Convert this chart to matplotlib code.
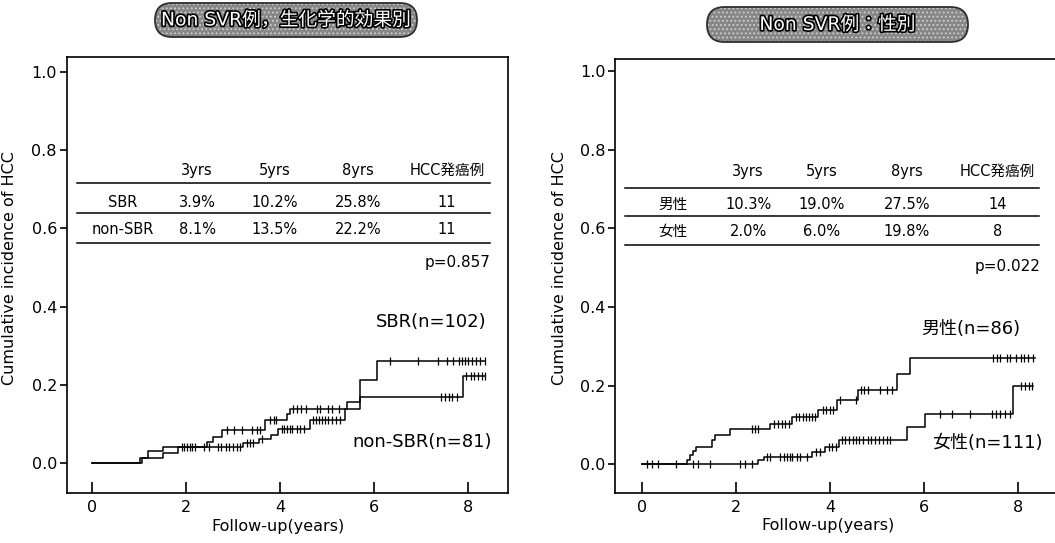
import numpy as np
import matplotlib
matplotlib.use('Agg')
import matplotlib.pyplot as plt
from matplotlib.patches import FancyBboxPatch
from matplotlib.transforms import IdentityTransform
import matplotlib.patheffects as pe

plt.rcParams['font.family'] = ['DejaVu Sans', 'Noto Sans CJK JP']
plt.rcParams['hatch.linewidth'] = 0.8

# ---------------- data ----------------
titles = ["Non SVR例，生化学的効果別", "Non SVR例：性別"]
table_cols = ["3yrs", "5yrs", "8yrs", "HCC発癌例"]

# Left panel: SBR vs non-SBR
left_groups = ["SBR", "non-SBR"]
left_rates = [["3.9%", "10.2%", "25.8%", "11"],
              ["8.1%", "13.5%", "22.2%", "11"]]
left_p = "p=0.857"
left_labels = ["SBR(n=102)", "non-SBR(n=81)"]

sbr_t = [1.06, 1.52, 1.84, 3.22, 3.55, 3.80, 3.95, 4.64, 5.38, 5.70, 6.05]
sbr_y = [0.013, 0.026, 0.042, 0.051, 0.061, 0.072, 0.087, 0.111, 0.140, 0.213, 0.261]
sbr_end = 8.35
sbr_cens = [1.95, 2.08, 2.38, 2.50, 2.68, 2.75, 2.85, 2.92, 3.00, 3.08, 3.15,
            3.30, 3.36, 3.42, 3.62, 4.03, 4.08, 4.14, 4.20, 4.26, 4.35, 4.42,
            4.50, 4.70, 4.76, 4.82, 4.88, 4.95, 5.02, 5.10, 5.18, 5.28,
            6.33, 6.93, 7.36, 7.54, 7.68, 7.80, 7.86, 7.92, 8.00, 8.08, 8.16,
            8.25, 8.35]

nsbr_t = [1.03, 1.20, 1.52, 2.44, 2.58, 2.76, 3.68, 4.14, 4.22, 5.41, 5.70, 7.89]
nsbr_y = [0.013, 0.032, 0.042, 0.055, 0.068, 0.085, 0.111, 0.125, 0.140, 0.157, 0.170, 0.224]
nsbr_end = 8.35
nsbr_cens = [1.91, 2.02, 2.12, 2.19, 2.87, 3.03, 3.19, 3.40, 3.50, 3.58,
             3.79, 3.86, 3.92, 4.28, 4.35, 4.45, 4.55, 4.78, 4.85, 5.02,
             5.10, 5.25, 7.42, 7.50, 7.58, 7.65, 7.75, 7.95, 8.05, 8.12,
             8.20, 8.28, 8.35]

# Right panel: male vs female
right_groups = ["男性", "女性"]
right_rates = [["10.3%", "19.0%", "27.5%", "14"],
               ["2.0%", "6.0%", "19.8%", "8"]]
right_p = "p=0.022"
right_labels = ["男性(n=86)", "女性(n=111)"]

male_t = [0.97, 1.03, 1.10, 1.15, 1.50, 1.56, 1.88, 2.73, 3.20, 3.75, 4.14, 4.60, 5.42, 5.70]
male_y = [0.012, 0.024, 0.035, 0.045, 0.062, 0.075, 0.090, 0.102, 0.120, 0.138, 0.164, 0.189, 0.230, 0.271]
male_end = 8.35
male_cens = [0.11, 0.21, 0.35, 0.73, 2.34, 2.41, 2.48, 2.82, 2.90, 2.98, 3.05,
             3.12, 3.28, 3.35, 3.42, 3.48, 3.55, 3.62, 3.68, 3.85, 3.92, 4.00,
             4.06, 4.22, 4.55, 4.66, 4.72, 4.80, 5.07, 5.22, 5.32, 7.47, 7.55,
             7.62, 7.75, 7.82, 7.95, 8.05, 8.12, 8.20, 8.30]

female_t = [2.47, 2.60, 3.62, 3.90, 4.20, 5.63, 6.02, 7.89]
female_y = [0.010, 0.019, 0.031, 0.044, 0.062, 0.096, 0.127, 0.198]
female_end = 8.32
female_cens = [1.10, 1.20, 1.45, 2.09, 2.20, 2.34, 2.66, 2.72, 2.94, 3.02,
               3.08, 3.14, 3.20, 3.30, 3.36, 3.51, 3.70, 3.78, 3.98, 4.05,
               4.12, 4.25, 4.32, 4.40, 4.48, 4.55, 4.62, 4.70, 4.80, 4.88,
               4.95, 5.05, 5.12, 5.20, 5.28, 6.34, 6.60, 6.97, 7.43, 7.52,
               7.62, 7.72, 7.82, 8.06, 8.15, 8.22, 8.28]

xticks = [0, 2, 4, 6, 8]
yticks = [0.0, 0.2, 0.4, 0.6, 0.8, 1.0]

# ---------------- figure ----------------
W, H = 1055, 543
fig = plt.figure(figsize=(W / 100, H / 100), dpi=100)
fig.patch.set_facecolor('white')


def ax_rect(x0, x1, ytop, ybot):
    return [x0 / W, (H - ybot) / H, (x1 - x0) / W, (ybot - ytop) / H]


axL = fig.add_axes(ax_rect(66.7, 508, 57, 493.3))
axR = fig.add_axes(ax_rect(615, 1065, 59, 493.3))
axL.set_xlim(-0.531, 8.839)
axL.set_ylim(-0.0766, 1.038)
axR.set_xlim(-0.567, 8.99)
axR.set_ylim(-0.0738, 1.031)


def km(ax, t, y, end, cens):
    xs = np.concatenate([[0.0], t, [end]])
    ys = np.concatenate([[0.0], y, [y[-1]]])
    ax.step(xs, ys, where='post', color='black', lw=1.1)
    c = np.asarray(cens)
    idx = np.searchsorted(np.asarray(t), c, side='right')
    cy = np.where(idx > 0, np.asarray(y)[np.maximum(idx - 1, 0)], 0.0)
    ax.plot(c, cy, linestyle='none', marker='|', markersize=6,
            markeredgewidth=0.9, color='black')


def style(ax, xlabel_x, ylabel_xy):
    for s in ax.spines.values():
        s.set_linewidth(1.2)
    ax.set_xticks(xticks)
    ax.set_yticks(yticks)
    ax.set_xticklabels([str(v) for v in xticks], fontsize=11.5)
    ax.set_yticklabels([f"{v:.1f}" for v in yticks], fontsize=11.5)
    ax.tick_params(axis='x', direction='in', length=8, width=1.2, pad=5)
    ax.tick_params(axis='y', direction='out', length=5, width=1.2, pad=2)
    ax.set_xlabel("Follow-up(years)", fontsize=11.5)
    ax.xaxis.set_label_coords(xlabel_x, -0.058)
    ax.set_ylabel("Cumulative incidence of HCC", fontsize=11.5)
    ax.yaxis.set_label_coords(*ylabel_xy)


def table(ax, cols_x, rows_lab, rows, ys, lines_y, lx0, lx1, px, py, ptxt):
    for cx, txt in zip(cols_x[1:], table_cols):
        ax.text(cx, ys[0], txt, ha='center', va='center', fontsize=10.5)
    for r, (lab, vals) in enumerate(zip(rows_lab, rows)):
        ax.text(cols_x[0], ys[r + 1], lab, ha='center', va='center', fontsize=10.5)
        for cx, v in zip(cols_x[1:], vals):
            ax.text(cx, ys[r + 1], v, ha='center', va='center', fontsize=10.5)
    for ly in lines_y:
        ax.plot([lx0, lx1], [ly, ly], color='black', lw=1.1)
    ax.text(px, py, ptxt, ha='right', va='center', fontsize=11)


# left panel
km(axL, sbr_t, sbr_y, sbr_end, sbr_cens)
km(axL, nsbr_t, nsbr_y, nsbr_end, nsbr_cens)
style(axL, 0.479, (-0.112, 0.516))
table(axL, [0.66, 2.24, 3.89, 5.65, 7.54], left_groups, left_rates,
      [0.749, 0.667, 0.598], [0.716, 0.639, 0.563], -0.31, 8.46,
      8.47, 0.512, left_p)
axL.text(8.39, 0.361, left_labels[0], ha='right', va='center', fontsize=13)
axL.text(8.50, 0.054, left_labels[1], ha='right', va='center', fontsize=13)

# right panel
km(axR, male_t, male_y, male_end, male_cens)
km(axR, female_t, female_y, female_end, female_cens)
style(axR, 0.473, (-0.106, 0.519))
table(axR, [0.67, 2.26, 3.83, 5.63, 7.55], right_groups, right_rates,
      [0.744, 0.662, 0.591], [0.703, 0.632, 0.558], -0.35, 8.44,
      8.46, 0.502, right_p)
axR.text(8.04, 0.344, right_labels[0], ha='right', va='center', fontsize=13)
axR.text(8.52, 0.054, right_labels[1], ha='right', va='center', fontsize=13)

# title pills
for (x0, x1, yt, yb), ttl in zip([(155, 417, 3, 37), (707, 968, 7, 42)], titles):
    h = yb - yt
    base = FancyBboxPatch((x0, H - yb), x1 - x0, h,
                          boxstyle=f"round,pad=0,rounding_size={h / 2}",
                          transform=IdentityTransform(), facecolor='#878787',
                          edgecolor='#cfcfcf', linewidth=0, hatch='....')
    outline = FancyBboxPatch((x0, H - yb), x1 - x0, h,
                             boxstyle=f"round,pad=0,rounding_size={h / 2}",
                             transform=IdentityTransform(), fill=False,
                             edgecolor='#2e2e2e', linewidth=1.3)
    fig.patches.append(base)
    fig.patches.append(outline)
    fig.text((x0 + x1) / 2 / W, 1 - (yt + yb) / 2 / H, ttl, ha='center',
             va='center', fontsize=13.5, color='white',
             path_effects=[pe.withStroke(linewidth=2.4, foreground='black')])

fig.savefig('out.png', dpi=100, facecolor='white')
